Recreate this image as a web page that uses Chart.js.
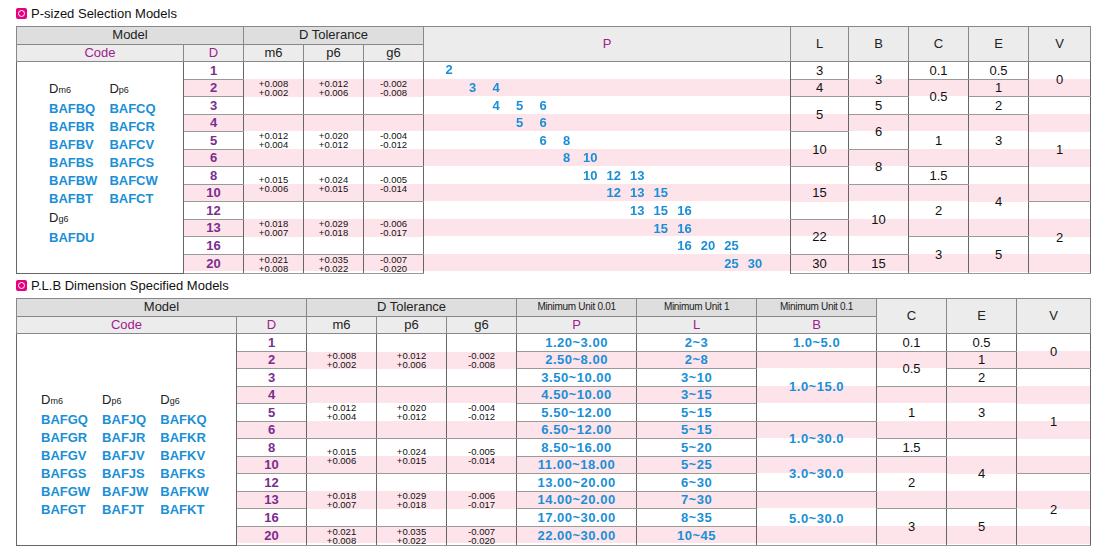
<!DOCTYPE html>
<html><head><meta charset="utf-8">
<script src="https://cdn.jsdelivr.net/npm/chart.js@4"></script>
<style>
body{margin:0;background:#fff;font-family:"Liberation Sans",Arial,sans-serif;width:1110px;height:556px;overflow:hidden;position:relative}
.title{position:absolute;left:16px;font-size:13px;color:#111;display:flex;align-items:center;gap:4px}
.ico{width:11px;height:11px;background:#e4007f;border-radius:2px;position:relative}
.ico:after{content:"";position:absolute;left:2px;top:2px;width:5px;height:5px;border:1px solid #fff;border-radius:50%}
table{position:absolute;left:16px;border-collapse:collapse;table-layout:fixed;width:1074px}
th{background:#dedede;font-weight:normal;font-size:13px;color:#222;border:1px solid #888;padding:0;height:15px;line-height:14px}
th.sub{background:#ececec}
th.pp{color:#a0208c}
th.sm{font-size:10px;letter-spacing:-0.3px}
tbody{background:repeating-linear-gradient(#fff 0,#fff 17.5px,#fde3ea 17.5px,#fde3ea 35px)}
td{padding:0;border-left:1px solid #666;border-right:1px solid #666;border-top:1px solid #999;border-bottom:1px solid #999;text-align:center;font-size:13px;color:#111;line-height:13px;background:transparent}
tr{height:17.5px}
td.d{color:#7b2d8e;font-weight:bold}
td.tol{font-size:9.5px;line-height:9px}
td.blue{color:#1a8fd6;font-weight:bold;letter-spacing:0.5px}
td.p{border-top:none;border-bottom:none}
td.code{background:#fff;vertical-align:middle;border-bottom:1px solid #666;text-align:left}
.cg{display:inline-grid;gap:1px 12px;text-align:left;font-weight:bold;color:#1a8fd6;font-size:13px;line-height:17px}
.cg .h{color:#222;font-weight:normal;font-size:13px}
.cg .h sub{font-size:9px;vertical-align:baseline}
#pc{position:absolute}
</style></head><body>
<div class="title" style="top:6px"><span class="ico"></span>P-sized Selection Models</div>
<table id="t1" style="top:26px"></table>
<div class="title" style="top:278px"><span class="ico"></span>P.L.B Dimension Specified Models</div>
<table id="t2" style="top:298px"></table>
<canvas id="pc"></canvas>
<script>
const dValues = [1, 2, 3, 4, 5, 6, 8, 10, 12, 13, 16, 20];
const tolSpans = [3, 3, 2, 3, 1];
const m6 = [["+0.008","+0.002"],["+0.012","+0.004"],["+0.015","+0.006"],["+0.018","+0.007"],["+0.021","+0.008"]];
const p6 = [["+0.012","+0.006"],["+0.020","+0.012"],["+0.024","+0.015"],["+0.029","+0.018"],["+0.035","+0.022"]];
const g6 = [["-0.002","-0.008"],["-0.004","-0.012"],["-0.005","-0.014"],["-0.006","-0.017"],["-0.007","-0.020"]];

// table 1
const pLabels = ["2","3","4","5","6","8","10","12","13","15","16","20","25","30"];
const pRows = [["2"],["3","4"],["4","5","6"],["5","6"],["6","8"],["8","10"],["10","12","13"],["12","13","15"],["13","15","16"],["15","16"],["16","20","25"],["25","30"]];
const L1 = [["3",1],["4",1],["5",2],["10",2],["15",3],["22",2],["30",1]];
const B1 = [["3",2],["5",1],["6",2],["8",2],["10",4],["15",1]];
const C1 = [["0.1",1],["0.5",2],["1",3],["1.5",1],["2",3],["3",2]];
const E1 = [["0.5",1],["1",1],["2",1],["3",3],["4",4],["5",2]];
const V1 = [["0",2],["1",6],["2",4]];
const codes1m6 = ["BAFBQ","BAFBR","BAFBV","BAFBS","BAFBW","BAFBT"];
const codes1p6 = ["BAFCQ","BAFCR","BAFCV","BAFCS","BAFCW","BAFCT"];
const codes1g6 = ["BAFDU"];

// table 2
const P2 = ["1.20~3.00","2.50~8.00","3.50~10.00","4.50~10.00","5.50~12.00","6.50~12.00","8.50~16.00","11.00~18.00","13.00~20.00","14.00~20.00","17.00~30.00","22.00~30.00"];
const L2 = ["2~3","2~8","3~10","3~15","5~15","5~15","5~20","5~25","6~30","7~30","8~35","10~45"];
const B2 = [["1.0~5.0",1],["1.0~15.0",4],["1.0~30.0",2],["3.0~30.0",2],["5.0~30.0",3]];
const codes2m6 = ["BAFGQ","BAFGR","BAFGV","BAFGS","BAFGW","BAFGT"];
const codes2p6 = ["BAFJQ","BAFJR","BAFJV","BAFJS","BAFJW","BAFJT"];
const codes2g6 = ["BAFKQ","BAFKR","BAFKV","BAFKS","BAFKW","BAFKT"];

const tolSeg = arr => arr.map((v, i) => [v[0] + "<br>" + v[1], tolSpans[i]]);
const per = arr => arr.map(v => [v, 1]);

function segCell(segs, row, cls) {
  let r = 0;
  for (const [v, s] of segs) {
    if (r === row) return `<td class="${cls||""}" rowspan="${s}">${v}</td>`;
    r += s;
  }
  return "";
}

function build(id, widths, head, codeHtml, cols) {
  let h = "<colgroup>" + widths.map(w => `<col style="width:${w}px">`).join("") + "</colgroup>";
  h += "<thead>" + head + "</thead><tbody>";
  for (let i = 0; i < 12; i++) {
    h += "<tr>";
    if (i === 0) h += `<td class="code" rowspan="12">${codeHtml}</td>`;
    for (const c of cols) h += segCell(c.segs, i, c.cls);
    h += "</tr>";
  }
  document.getElementById(id).innerHTML = h + "</tbody>";
}

function codeGrid(groups) {
  let n = groups.length;
  let s = `<div class="cg" style="grid-template-columns:repeat(${n},auto)">`;
  s += groups.map(g => `<div class="h">D<sub>${g.k}</sub></div>`).join("");
  for (let i = 0; i < 6; i++) s += groups.map(g => `<div>${g.list[i] || ""}</div>`).join("");
  return s + "</div>";
}

const code1 = `<div style="padding-left:32px;margin-top:-8px">` +
  codeGrid([{k:"m6",list:codes1m6},{k:"p6",list:codes1p6}]) +
  `<div class="cg" style="margin-top:2px;display:grid">` +
  `<div class="h">D<sub>g6</sub></div><div>${codes1g6[0]}</div></div></div>`;

build("t1", [167,60,60,60,60,367,58,60,60,60,62],
  `<tr><th colspan="2">Model</th><th colspan="3">D Tolerance</th><th rowspan="2" class="pp sub">P</th><th rowspan="2" class="sub">L</th><th rowspan="2" class="sub">B</th><th rowspan="2" class="sub">C</th><th rowspan="2" class="sub">E</th><th rowspan="2" class="sub">V</th></tr>
   <tr><th class="pp sub">Code</th><th class="pp sub">D</th><th class="sub">m6</th><th class="sub">p6</th><th class="sub">g6</th></tr>`,
  code1,
  [{segs: per(dValues), cls: "d"},
   {segs: tolSeg(m6), cls: "tol"}, {segs: tolSeg(p6), cls: "tol"}, {segs: tolSeg(g6), cls: "tol"},
   {segs: per(pRows.map(() => "")), cls: "p"},
   {segs: L1}, {segs: B1}, {segs: C1}, {segs: E1}, {segs: V1}]);

build("t2", [220,70,70,70,70,120,120,120,70,70,74],
  `<tr><th colspan="2">Model</th><th colspan="3">D Tolerance</th><th class="sm">Minimum Unit 0.01</th><th class="sm">Minimum Unit 1</th><th class="sm">Minimum Unit 0.1</th><th rowspan="2" class="sub">C</th><th rowspan="2" class="sub">E</th><th rowspan="2" class="sub">V</th></tr>
   <tr><th class="pp sub">Code</th><th class="pp sub">D</th><th class="sub">m6</th><th class="sub">p6</th><th class="sub">g6</th><th class="pp sub">P</th><th class="pp sub">L</th><th class="pp sub">B</th></tr>`,
  `<div style="padding-left:24px;margin-top:30px">` +
  codeGrid([{k:"m6",list:codes2m6},{k:"p6",list:codes2p6},{k:"g6",list:codes2g6}]) + `</div>`,
  [{segs: per(dValues), cls: "d"},
   {segs: tolSeg(m6), cls: "tol"}, {segs: tolSeg(p6), cls: "tol"}, {segs: tolSeg(g6), cls: "tol"},
   {segs: per(P2), cls: "blue"}, {segs: per(L2), cls: "blue"}, {segs: B2, cls: "blue"},
   {segs: C1}, {segs: E1}, {segs: V1}]);

// P staircase drawn by Chart.js over the P column of table 1
const pCells = document.querySelectorAll("#t1 td.p");
const r0 = pCells[0].getBoundingClientRect();
const r1 = pCells[pCells.length - 1].getBoundingClientRect();
const cv = document.getElementById("pc");
cv.style.left = r0.left + "px";
cv.style.top = r0.top + "px";
cv.width = r0.width;
cv.height = r1.bottom - r0.top;

const points = [];
pRows.forEach((row, i) => row.forEach(v => points.push({ x: v, y: i + 1 })));

const labelPlugin = {
  id: "pText",
  afterDatasetsDraw(chart) {
    const ctx = chart.ctx;
    ctx.save();
    ctx.font = "bold 13px 'Liberation Sans', Arial, sans-serif";
    ctx.fillStyle = "#1a8fd6";
    ctx.textAlign = "center";
    ctx.textBaseline = "middle";
    chart.getDatasetMeta(0).data.forEach((el, i) => ctx.fillText(points[i].x, el.x, el.y));
    ctx.restore();
  }
};

new Chart(cv.getContext("2d"), {
  type: "scatter",
  data: { datasets: [{ data: points, pointRadius: 0 }] },
  options: {
    responsive: false,
    animation: false,
    layout: { padding: { left: 25, right: 36, top: 0, bottom: 0 } },
    plugins: { legend: { display: false }, tooltip: { enabled: false } },
    scales: {
      x: { type: "category", labels: pLabels, offset: false, display: false },
      y: { type: "linear", min: 0.5, max: 12.5, reverse: true, display: false }
    }
  },
  plugins: [labelPlugin]
});
</script>
</body></html>
